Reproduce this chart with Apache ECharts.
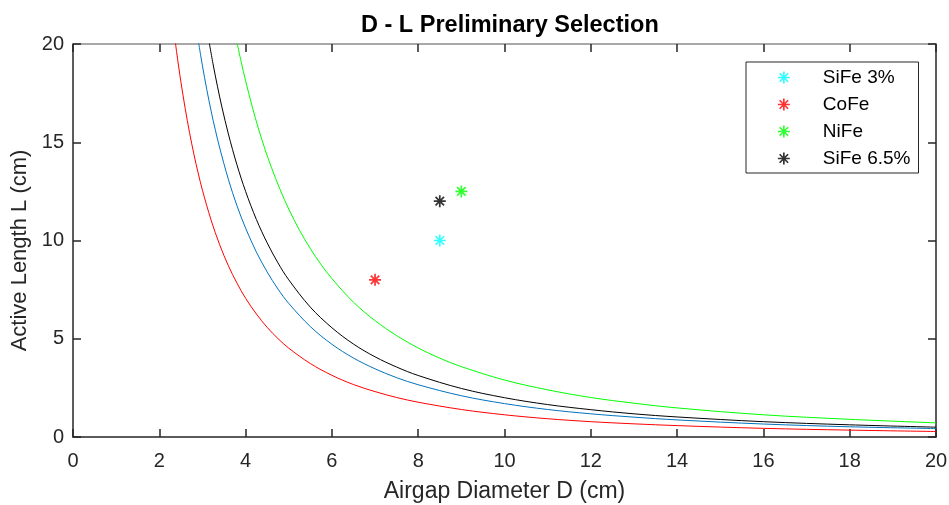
<!DOCTYPE html>
<html><head><meta charset="utf-8">
<script src="https://cdn.jsdelivr.net/npm/echarts@6/dist/echarts.min.js"></script>
<style>html,body{margin:0;padding:0;background:#fff}#c{width:949px;height:505px}</style>
</head><body><div id="c"></div>
<script>
// Curves: [D, L]
const redCurve = [[2.35,20.46],[2.4,19.62],[2.45,18.83],[2.5,18.08],[2.6,16.72],[2.7,15.50],[2.8,14.41],[2.9,13.44],[3.0,12.56],[3.2,11.04],[3.4,9.78],[3.6,8.72],[3.8,7.83],[4.0,7.06],[4.25,6.26],[4.5,5.58],[4.75,5.01],[5.0,4.52],[5.5,3.74],[6.0,3.14],[6.5,2.67],[7.0,2.31],[7.5,2.01],[8,1.77],[9,1.40],[10,1.13],[11,0.93],[12,0.78],[13,0.67],[14,0.58],[16,0.44],[18,0.35],[20,0.28]];
const blueCurve = [[2.9,20.21],[3.0,18.89],[3.1,17.69],[3.2,16.60],[3.3,15.61],[3.4,14.71],[3.6,13.12],[3.8,11.77],[4.0,10.63],[4.25,9.41],[4.5,8.40],[4.75,7.53],[5.0,6.80],[5.5,5.62],[6.0,4.72],[6.5,4.02],[7.0,3.47],[7.5,3.02],[8,2.66],[9,2.10],[10,1.70],[11,1.40],[12,1.18],[13,1.01],[14,0.87],[16,0.66],[18,0.52],[20,0.43]];
const blackCurve = [[3.15,20.16],[3.25,18.93],[3.35,17.82],[3.45,16.80],[3.6,15.43],[3.8,13.85],[4.0,12.50],[4.25,11.07],[4.5,9.88],[4.75,8.86],[5.0,8.00],[5.5,6.61],[6.0,5.56],[6.5,4.73],[7.0,4.08],[7.5,3.56],[8,3.13],[9,2.47],[10,2.00],[11,1.65],[12,1.39],[13,1.18],[14,1.02],[16,0.78],[18,0.62],[20,0.50]];
const greenCurve = [[3.8,20.08],[3.9,19.07],[4.0,18.13],[4.15,16.84],[4.3,15.68],[4.45,14.64],[4.6,13.71],[4.8,12.59],[5.0,11.60],[5.25,10.52],[5.5,9.59],[5.75,8.77],[6.0,8.06],[6.5,6.86],[7.0,5.92],[7.5,5.16],[8,4.53],[8.5,4.01],[9,3.58],[10,2.90],[11,2.40],[12,2.01],[13,1.72],[14,1.48],[16,1.13],[18,0.90],[20,0.72]];

const pointNames = ['SiFe 3%','CoFe','NiFe','SiFe 6.5%'];
const pointD = [8.5, 7, 9, 8.5];
const pointL = [10, 8, 12.5, 12];
const pointColors = ['#00FFFF','#FF0000','#00FF00','#000000'];

const xTicks = [0,2,4,6,8,10,12,14,16,18,20];
const yTicks = [0,5,10,15,20];

const star = 'path://M10,0L10,20M0,10L20,10M2.93,2.93L17.07,17.07M2.93,17.07L17.07,2.93';
const axisCol = '#262626';
const font = 'Liberation Sans, Arial, sans-serif';

const chart = echarts.init(document.getElementById('c'), null, {renderer:'canvas'});
const curveSeries = [
  {d: blueCurve, c:'#0072BD'},
  {d: redCurve, c:'#FF0000'},
  {d: blackCurve, c:'#000000'},
  {d: greenCurve, c:'#00FF00'}
].map(o => ({type:'line', data:o.d, smooth:0.35, symbol:'none', silent:true, clip:true,
  lineStyle:{color:o.c, width:1}, z:2}));
const pointSeries = pointNames.map((n,i) => ({
  type:'scatter', name:n, data:[[pointD[i], pointL[i]]], symbol:star, symbolSize:12,
  itemStyle:{color:pointColors[i], borderColor:pointColors[i], borderWidth:1.7}, z:3
}));

const axBase = {min:0, max:20, splitLine:{show:false}};
chart.setOption({
  animation:false,
  backgroundColor:'#fff',
  title:{text:'D - L Preliminary Selection', left:356, top:9,
    textStyle:{fontFamily:font, fontWeight:'bold', fontSize:23.5, color:'#000'}},
  grid:{left:73, right:13, top:44, bottom:68, containLabel:false, outerBoundsMode:'none'},
  legend:{orient:'vertical', left:746, top:62, data:pointNames, itemWidth:12, itemHeight:12, itemGap:8,
    padding:[6,8,5,31], borderColor:'#262626', borderWidth:1, backgroundColor:'#fff',
    icon:star, itemStyle:{borderWidth:1.7},
    textStyle:{fontFamily:font, fontSize:19, color:'#000', padding:[0,0,0,28]}},
  xAxis:[
    Object.assign({}, axBase, {type:'value', interval:2, position:'bottom',
      name:'Airgap Diameter D (cm)', nameLocation:'middle', nameGap:43,
      nameTextStyle:{fontFamily:font, fontSize:23, color:'#262626'},
      axisLine:{show:true, onZero:false, lineStyle:{color:axisCol, width:1.5}},
      axisTick:{show:true, inside:true, length:8, lineStyle:{color:axisCol, width:1.5}},
      axisLabel:{fontFamily:font, fontSize:20, color:'#262626', margin:14}}),
    Object.assign({}, axBase, {type:'value', interval:2, position:'top',
      axisLine:{show:true, onZero:false, lineStyle:{color:'#8c8c8c', width:1.5}},
      axisTick:{show:true, inside:true, length:8, lineStyle:{color:axisCol, width:1.5}},
      axisLabel:{show:false}})
  ],
  yAxis:[
    Object.assign({}, axBase, {type:'value', interval:5, position:'left',
      name:'Active Length L (cm)', nameLocation:'middle', nameGap:32, nameRotate:90,
      nameTextStyle:{fontFamily:font, fontSize:22, color:'#262626', padding:[0,20,0,0]},
      axisLine:{show:true, onZero:false, lineStyle:{color:axisCol, width:1.5}},
      axisTick:{show:true, inside:true, length:8, lineStyle:{color:axisCol, width:1.5}},
      axisLabel:{fontFamily:font, fontSize:20, color:'#262626', margin:9}}),
    Object.assign({}, axBase, {type:'value', interval:5, position:'right',
      axisLine:{show:true, onZero:false, lineStyle:{color:axisCol, width:1.5}},
      axisTick:{show:true, inside:true, length:8, lineStyle:{color:axisCol, width:1.5}},
      axisLabel:{show:false}})
  ],
  series: curveSeries.concat(pointSeries)
});
</script></body></html>
